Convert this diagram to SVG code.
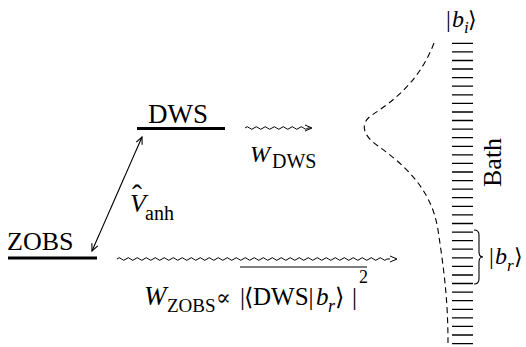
<svg xmlns="http://www.w3.org/2000/svg" width="526" height="347" viewBox="0 0 526 347">
<style>
text{font-family:"Liberation Serif","Times New Roman",Tinos,"DejaVu Serif",serif;fill:#000}
.it{font-style:italic}
.sym{font-family:"DejaVu Serif","Liberation Serif",serif}
.lvl{stroke:#000;stroke-width:3;fill:none}
.thin{stroke:#000;stroke-width:1.1;fill:none}
.wave{stroke:#000;stroke-width:1;fill:none}
</style>
<defs>
<marker id="ah" markerUnits="userSpaceOnUse" markerWidth="14" markerHeight="14" refX="0" refY="0" viewBox="-8 -7 10 14" orient="auto-start-reverse" overflow="visible">
<path d="M-7,-3.2 L0,0 L-7,3.2" fill="none" stroke="#000" stroke-width="1.1"/>
</marker>
</defs>
<rect width="526" height="347" fill="#fff"/>
<g id="DWS">
<line class="lvl" x1="137" y1="128.5" x2="225" y2="128.5"/>
<text x="148" y="123" font-size="27" font-family="Liberation Serif, serif">DWS</text>
</g>
<g id="ZOBS">
<line class="lvl" x1="8" y1="258" x2="97" y2="258"/>
<text x="7" y="250" font-size="26" font-family="Liberation Serif, serif">ZOBS</text>
</g>
<g id="Vanh">
<text class="it" x="130" y="212" font-size="26" font-family="Liberation Serif, serif">V</text>
<text x="132" y="205" font-size="30" font-family="Liberation Serif, serif">ˆ</text>
<text x="145" y="220" font-size="20" font-family="Liberation Serif, serif">anh</text>
</g>
<g id="WDWS">
<text class="it" x="250" y="162" font-size="24" font-family="Liberation Serif, serif">W</text>
<text x="272" y="168" font-size="20" font-family="Liberation Serif, serif">DWS</text>
</g>
<g id="WZOBS">
<text class="it" x="144" y="305" font-size="27" font-family="Liberation Serif, serif">W</text>
<text x="167" y="312" font-size="19" font-family="Liberation Serif, serif">ZOBS</text>
<text class="sym" x="216" y="305" font-size="22">∝</text>
<text x="240" y="305" font-size="25" font-family="Liberation Serif, serif">|</text>
<text class="sym" x="244" y="305" font-size="24">⟨</text>
<text x="253" y="305" font-size="25" font-family="Liberation Serif, serif">DWS|</text>
<text class="it" x="316" y="305" font-size="25" font-family="Liberation Serif, serif">b</text>
<text class="it" x="328" y="312" font-size="18" font-family="Liberation Serif, serif">r</text>
<text class="sym" x="335" y="305" font-size="24">⟩</text>
<text x="352" y="305" font-size="25" font-family="Liberation Serif, serif">|</text>
<text x="359" y="283" font-size="18" font-family="Liberation Serif, serif">2</text>
<line class="thin" x1="240" y1="267" x2="367" y2="267"/>
</g>
<g id="bath">
<path stroke="#000" stroke-width="1.3" fill="none" d="M452,43.3h21M452,51.9h21M452,60.5h21M452,69h21M452,77.6h21M452,86.2h21M452,94.8h21M452,103.4h21M452,112h21M452,120.5h21M452,129.1h21M452,137.7h21M452,146.3h21M452,154.9h21M452,163.4h21M452,172h21M452,180.6h21M452,189.2h21M452,197.7h21M452,206.3h21M452,214.9h21M452,223.5h21M452,232.1h21M452,240.6h21M452,249.2h21M452,257.8h21M452,266.4h21M452,275h21M452,283.5h21M452,292.1h21M452,300.7h21M452,309.3h21M452,317.9h21M452,326.4h21M452,335h21M452,343.6h21"/>
<text transform="translate(501,187) rotate(-90)" font-size="26" font-family="Liberation Serif, serif">Bath</text>
</g>
<g id="bi">
<text x="446" y="27" font-size="24" font-family="Liberation Serif, serif">|</text>
<text class="it" x="452" y="27" font-size="24" font-family="Liberation Serif, serif">b</text>
<text class="it" x="464" y="33" font-size="17" font-family="Liberation Serif, serif">i</text>
<text class="sym" x="468" y="27" font-size="22">⟩</text>
</g>
<g id="br">
<path class="thin" d="M474,230 q5,0 5,5 v17 q0,5 4,5 q-4,0 -4,5 v17 q0,5 -5,5"/>
<text x="489" y="264" font-size="24" font-family="Liberation Serif, serif">|</text>
<text class="it" x="495" y="264" font-size="24" font-family="Liberation Serif, serif">b</text>
<text class="it" x="507" y="271" font-size="17" font-family="Liberation Serif, serif">r</text>
<text class="sym" x="514" y="264" font-size="22">⟩</text>
</g>
<g id="profile">
<path d="M434,43 C420,80 395,100 372,115 C360,123 362,135 378,146 C405,165 432,190 438,230 C444,270 448,300 448,343" fill="none" stroke="#000" stroke-width="1.1" stroke-dasharray="6,4"/>
</g>
<g id="connectors">
<line class="thin" x1="142" y1="137" x2="92" y2="251" marker-start="url(#ah)" marker-end="url(#ah)"/>
<path class="wave" d="M245,128 q2.25,-2.6 4.5,0 t4.5,0 t4.5,0 t4.5,0 t4.5,0 t4.5,0 t4.5,0 t4.5,0 t4.5,0 t4.5,0 t4.5,0 t4.5,0 t4.5,0 t4.5,0 l3,0"/>
<path class="wave" d="M305,125 L312,128 L305,131"/>
<path class="wave" d="M117,259 q2.25,-2.6 4.5,0 t4.5,0 t4.5,0 t4.5,0 t4.5,0 t4.5,0 t4.5,0 t4.5,0 t4.5,0 t4.5,0 t4.5,0 t4.5,0 t4.5,0 t4.5,0 t4.5,0 t4.5,0 t4.5,0 t4.5,0 t4.5,0 t4.5,0 t4.5,0 t4.5,0 t4.5,0 t4.5,0 t4.5,0 t4.5,0 t4.5,0 t4.5,0 t4.5,0 t4.5,0 t4.5,0 t4.5,0 t4.5,0 t4.5,0 t4.5,0 t4.5,0 t4.5,0 t4.5,0 t4.5,0 t4.5,0 t4.5,0 t4.5,0 t4.5,0 t4.5,0 t4.5,0 t4.5,0 t4.5,0 t4.5,0 t4.5,0 t4.5,0 t4.5,0 t4.5,0 t4.5,0 t4.5,0 t4.5,0 t4.5,0 t4.5,0 t4.5,0 t4.5,0 t4.5,0 l3,0"/>
<path class="wave" d="M390,256 L397,259 L390,262"/>
</g>
</svg>
